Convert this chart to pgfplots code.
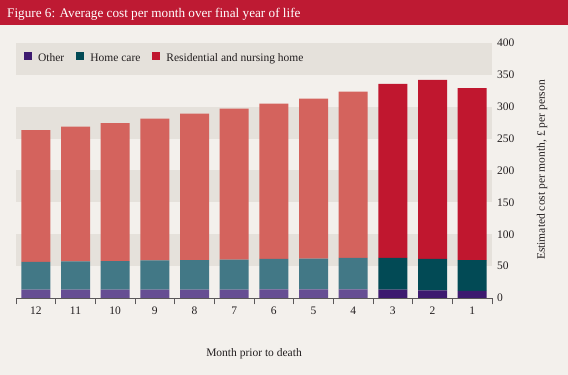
\documentclass[border=0pt]{standalone}
\usepackage{fontspec}
\setmainfont{Liberation Serif}
\usepackage{pgfplots}
\usepackage{pgfplotstable}
\pgfplotsset{compat=1.18}
\definecolor{bg}{HTML}{F3F0EC}
\definecolor{band}{HTML}{E5E1DB}
\definecolor{titlered}{HTML}{BE1A33}
\definecolor{lres}{HTML}{D4635D}
\definecolor{lhome}{HTML}{427886}
\definecolor{lother}{HTML}{664E93}
\definecolor{dres}{HTML}{C0172F}
\definecolor{dhome}{HTML}{024A55}
\definecolor{dother}{HTML}{3D1A6F}
\definecolor{txt}{HTML}{231F20}
\pgfplotstableread{
x lo lh lr do dh dr
0 13 43.5 207.0 0 0 0
1 13 44.6 211.3 0 0 0
2 13 45.0 216.5 0 0 0
3 13 46.1 222.3 0 0 0
4 13 46.6 229.6 0 0 0
5 13 47.2 236.9 0 0 0
6 13.5 47.7 243.7 0 0 0
7 13.5 48.3 251.0 0 0 0
8 13.5 49.3 260.9 0 0 0
9 0 0 0 13 49.8 272.9
10 0 0 0 12 49.2 280.8
11 0 0 0 11 48.6 269.8
}\data
\begin{document}
\begin{tikzpicture}
\useasboundingbox (0pt,0pt) rectangle (568pt,375pt);
\fill[bg] (0pt,0pt) rectangle (568pt,375pt);
\fill[titlered] (0pt,350pt) rectangle (568pt,375pt);
\node[anchor=base west, text=white, font=\fontsize{13.2}{15}\selectfont, inner sep=0pt] at (7pt,357.5pt) {Figure 6: Average cost per month over final year of life};
\fill[band] (16pt,108.875pt) rectangle (492pt,140.75pt);
\fill[band] (16pt,172.625pt) rectangle (492pt,204.5pt);
\fill[band] (16pt,236.375pt) rectangle (492pt,268.25pt);
\fill[band] (16pt,300.125pt) rectangle (492pt,332pt);
\begin{axis}[
  at={(16pt,77pt)}, anchor=south west,
  scale only axis, width=476pt, height=255pt,
  xmin=-0.5, xmax=11.5, ymin=0, ymax=400,
  ybar stacked, bar width=29pt,
  axis x line*=bottom, axis y line*=right,
  x axis line style={draw=txt!75, line width=0.6pt},
  y axis line style={draw=none},
  xtick={0,...,11},
  xticklabels={12,11,10,9,8,7,6,5,4,3,2,1},
  major x tick style={draw=none},
  extra x ticks={-0.5,0.5,...,11.5},
  extra x tick labels={},
  extra x tick style={major tick length=6.5pt, tick align=outside, major x tick style={draw=txt!75, line width=0.6pt}},
  ytick={0,50,...,400},
  major y tick style={draw=none},
  tick label style={font=\fontsize{11.5}{13}\selectfont, text=txt},
  /pgf/number format/assume math mode=true,
  xticklabel style={yshift=-5pt},
  yticklabel style={anchor=west, xshift=1.5pt},
  legend columns=3,
  legend style={at={(axis cs:-0.3,376)}, anchor=west, draw=none, fill=none, inner sep=0pt,
    font=\fontsize{11.5}{13}\selectfont, text=txt,
    nodes={text height=7.5pt, text depth=2pt},
    /tikz/every odd column/.append style={column sep=4pt},
    /tikz/every even column/.append style={column sep=10pt}},
  legend image code/.code={\fill[#1] (0pt,-1.2pt) rectangle (8pt,6.8pt);},
]
\addplot[fill=lother, draw=none, forget plot] table[x=x,y=lo]{\data};
\addplot[fill=lhome, draw=none, forget plot] table[x=x,y=lh]{\data};
\addplot[fill=lres, draw=none, forget plot] table[x=x,y=lr]{\data};
\addplot[fill=dother, draw=none] table[x=x,y=do]{\data};
\addplot[fill=dhome, draw=none] table[x=x,y=dh]{\data};
\addplot[fill=dres, draw=none] table[x=x,y=dr]{\data};
\legend{Other, Home care, Residential and nursing home}
\end{axis}
\node[rotate=90, font=\fontsize{11.5}{13}\selectfont, text=txt] at (542pt,205pt) {Estimated cost per month, £ per person};
\node[font=\fontsize{11.5}{13}\selectfont, text=txt] at (254pt,21pt) {Month prior to death};
\end{tikzpicture}
\end{document}
